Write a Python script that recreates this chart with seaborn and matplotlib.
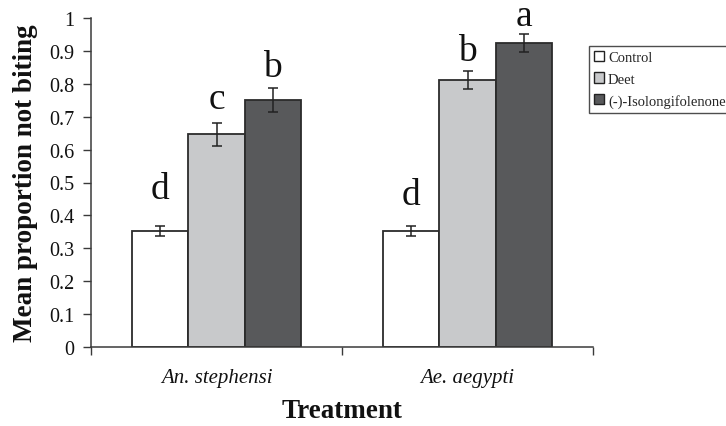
import numpy as np
import pandas as pd
import matplotlib
matplotlib.use("Agg")
import matplotlib.pyplot as plt
import seaborn as sns
from matplotlib.patches import Patch

# ---- data ----
species = ["An. stephensi", "Ae. aegypti"]
treatments = ["Control", "Deet", "(-)-Isolongifolenone"]
control_means = [0.353, 0.353]
deet_means = [0.646, 0.811]
iso_means = [0.751, 0.925]
control_se = [0.015, 0.015]
deet_se = [0.034, 0.028]
iso_se = [0.036, 0.027]
control_letters = ["d", "d"]
deet_letters = ["c", "b"]
iso_letters = ["b", "a"]

means = [control_means, deet_means, iso_means]
ses = [control_se, deet_se, iso_se]
letters = [control_letters, deet_letters, iso_letters]
# letter baseline offsets above error bar tops (points), per treatment/species
letter_offsets = [[20, 16], [11, 8], [9, 6.5]]

rows = []
for t, m in zip(treatments, means):
    for s, v in zip(species, m):
        rows.append({"Species": s, "Treatment": t, "Mean": v})
df = pd.DataFrame(rows)

colors = ["#ffffff", "#c8c9cb", "#58595b"]
palette = dict(zip(treatments, colors))

sns.set_style("white")
plt.rcParams["font.family"] = ["Liberation Serif", "DejaVu Serif"]

fig = plt.figure(figsize=(7.26, 4.27), dpi=100)
ax = fig.add_axes([91 / 726, 1 - 348 / 427, (593 - 91) / 726, (348 - 19) / 427])

sns.barplot(data=df, x="Species", y="Mean", hue="Treatment", order=species,
            hue_order=treatments, palette=palette, width=0.67, saturation=1,
            errorbar=None, edgecolor="#2b2b2b", linewidth=1.3, legend=False, ax=ax)

edge = "#222222"
bar_containers = list(ax.containers)
for i, cont in enumerate(bar_containers):
    xs = [b.get_x() + b.get_width() / 2 for b in cont]
    ys = [b.get_height() for b in cont]
    ax.errorbar(xs, ys, yerr=ses[i], fmt="none", ecolor=edge, elinewidth=1.1,
                capsize=3.5, capthick=1.1, zorder=5)
    for j, (x, y) in enumerate(zip(xs, ys)):
        ax.annotate(letters[i][j], (x, y + ses[i][j]), xytext=(0, letter_offsets[i][j]),
                    textcoords="offset points", ha="center", va="baseline",
                    fontsize=27, color="#111111")

ax.set_xlim(-0.5, 1.5)
ax.set_ylim(0, 1)
yt = np.round(np.arange(0, 1.01, 0.1), 1)
ax.set_yticks(yt)
ax.set_yticklabels([("%g" % v) for v in yt], fontsize=14.5)
ax.set_xticks([0, 1])
ax.set_xticklabels(species, fontsize=15, style="italic")
ax.set_xticks([-0.5, 0.5, 1.5], minor=True)
ax.tick_params(axis="x", which="major", bottom=True, length=0, pad=15)
ax.tick_params(axis="x", which="minor", bottom=True, length=6, width=1,
               color="#3a3a3a", direction="out")
ax.tick_params(axis="y", which="major", left=True, length=6, width=1,
               color="#3a3a3a", direction="out", pad=6)
ax.tick_params(axis="both", labelcolor="#111111")

for s in ["top", "right"]:
    ax.spines[s].set_visible(False)
for s in ["left", "bottom"]:
    ax.spines[s].set_color("#3a3a3a")
    ax.spines[s].set_linewidth(1.1)

ax.set_ylabel("Mean proportion not biting", fontsize=19.5, fontweight="bold",
              color="#111111", labelpad=8)
ax.set_xlabel("Treatment", fontsize=19.5, fontweight="bold", color="#111111", labelpad=8)

handles = [Patch(facecolor=c, edgecolor="#222222", linewidth=1.0) for c in colors]
leg = fig.legend(handles, treatments, loc="upper left",
                 bbox_to_anchor=(589 / 726, 1 - 47 / 427), borderaxespad=0,
                 fontsize=10.5, frameon=True, fancybox=False, edgecolor="#222222",
                 handlelength=0.7, handleheight=0.7, handletextpad=0.25,
                 labelspacing=0.55, borderpad=0.35)
leg.get_frame().set_linewidth(1.0)

fig.savefig("out.png", dpi=100)
